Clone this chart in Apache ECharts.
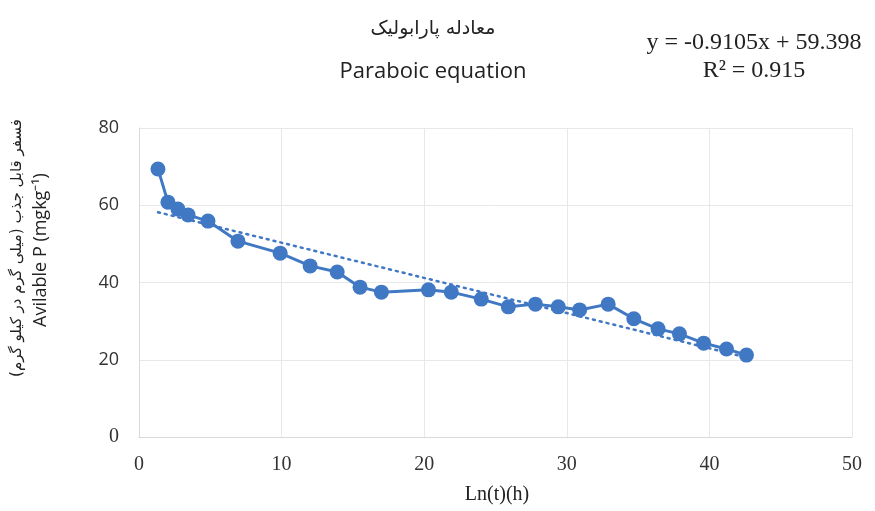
<!DOCTYPE html>
<html>
<head>
<meta charset="utf-8">
<script src="https://cdn.jsdelivr.net/npm/echarts@6/dist/echarts.min.js"></script>
<style>
  html, body { margin: 0; padding: 0; background: #fff; }
  #main { width: 875px; height: 511px; }
</style>
</head>
<body>
<div id="main"></div>
<script>
// Ln(t) values and available P
const lnT = [1.33, 2.03, 2.73, 3.44, 4.84, 6.94, 9.9, 12.0, 13.9, 15.5, 17.0, 20.3, 21.9, 24.0, 25.9, 27.8, 29.4, 30.9, 32.9, 34.7, 36.4, 37.9, 39.6, 41.2, 42.6]
const availP = [69.4, 60.8, 59.0, 57.5, 55.9, 50.7, 47.6, 44.3, 42.7, 38.8, 37.5, 38.1, 37.5, 35.7, 33.7, 34.4, 33.7, 32.9, 34.4, 30.6, 28.0, 26.7, 24.3, 22.8, 21.2]
// dotted linear trend line ends
const trendX = [1.33, 42.6]
const trendY = [58.2, 20.6]
const xTicks = { min: 0, max: 50, step: 10 }
const yTicks = { min: 0, max: 80, step: 20 }

const blue = '#4178c4'
const chart = echarts.init(document.getElementById('main'))

const option = {
  backgroundColor: '#fff',
  animation: false,
  grid: { left: 139, right: 23, top: 128, bottom: 74 },
  graphic: [
    { type: 'text', x: 433, y: 29, style: { text: 'معادله پارابولیک', font: '19px "DejaVu Sans"', fill: '#222', align: 'center', verticalAlign: 'middle' } },
    { type: 'text', x: 433, y: 72, style: { text: 'Paraboic equation', font: '22px "Open Sans"', fill: '#222', align: 'center', verticalAlign: 'middle' } },
    { type: 'text', x: 754, y: 43, style: { text: 'y = -0.9105x + 59.398', font: '24px "Liberation Serif"', fill: '#222', align: 'center', verticalAlign: 'middle' } },
    { type: 'text', x: 754, y: 71, style: { text: 'R² = 0.915', font: '24px "Liberation Serif"', fill: '#222', align: 'center', verticalAlign: 'middle' } },
    { type: 'text', x: 17, y: 248, rotation: Math.PI / 2, style: { text: 'فسفر قابل جذب (میلی گرم در کیلو گرم)', font: '15px "DejaVu Sans"', fill: '#222', align: 'center', verticalAlign: 'middle' } },
    { type: 'text', x: 41, y: 250, rotation: Math.PI / 2, style: { text: 'Avilable P (mgkg⁻¹)', font: '18px "Open Sans"', fill: '#222', align: 'center', verticalAlign: 'middle' } },
    { type: 'text', x: 497, y: 495, style: { text: 'Ln(t)(h)', font: '20px "Liberation Serif"', fill: '#222', align: 'center', verticalAlign: 'middle' } }
  ],
  xAxis: {
    type: 'value',
    min: xTicks.min,
    max: xTicks.max,
    interval: xTicks.step,
    axisLine: { show: true, lineStyle: { color: '#d9d9d9', width: 1 } },
    axisTick: { show: false },
    splitLine: { show: true, lineStyle: { color: '#e8e8e8' } },
    axisLabel: { margin: 18, color: '#333', fontFamily: 'Liberation Serif', fontSize: 20 }
  },
  yAxis: {
    type: 'value',
    min: yTicks.min,
    max: yTicks.max,
    interval: yTicks.step,
    axisLine: { show: true, lineStyle: { color: '#d9d9d9', width: 1 } },
    axisTick: { show: false },
    splitLine: { show: true, lineStyle: { color: '#e8e8e8' } },
    axisLabel: {
      margin: 20,
      formatter: function (v) { return v === 0 ? '{s|0}' : '{c|' + v + '}' },
      rich: {
        s: { fontFamily: 'Liberation Serif', fontSize: 20, color: '#333' },
        c: { fontFamily: 'Open Sans', fontSize: 18, color: '#333' }
      }
    }
  },
  series: [
    {
      type: 'line',
      data: trendX.map((x, i) => [x, trendY[i]]),
      symbol: 'none',
      lineStyle: { color: blue, width: 2.5, type: [2, 5], cap: 'round' },
      z: 1
    },
    {
      type: 'line',
      data: lnT.map((x, i) => [x, availP[i]]),
      symbol: 'circle',
      symbolSize: 15,
      itemStyle: { color: blue },
      lineStyle: { color: blue, width: 3 },
      z: 2
    }
  ]
}

chart.setOption(option)
</script>
</body>
</html>
